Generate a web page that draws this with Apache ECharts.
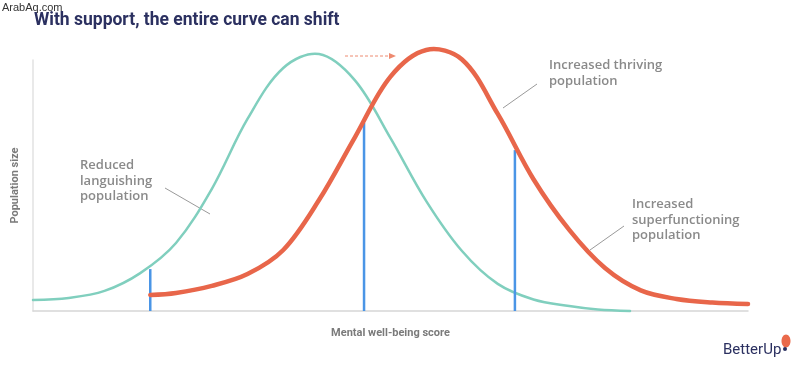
<!DOCTYPE html>
<html>
<head>
<meta charset="utf-8">
<script src="https://cdn.jsdelivr.net/npm/echarts@6/dist/echarts.min.js"></script>
<style>
html,body{margin:0;padding:0;background:#fff;}
#chart{width:800px;height:375px;}
</style>
</head>
<body>
<div id="chart"></div>
<script>
// Curve before support (teal): [score, population size]
const beforeCurve = [
  [0,4.4],[5,5.2],[10,8.0],[15,15.1],[20,27.1],[25,48.6],[30,76.5],[35,96.8],
  [40,102.4],[45,92.0],[50,68.9],[55,43.8],[60,23.9],[65,10.8],[70,4.6],
  [75,2.0],[79,0.6],[83.5,0]
];
// Curve with support (orange)
const afterCurve = [
  [16.4,6.4],[20,7.2],[25,10.0],[30,14.7],[35,24.3],[40,44.2],[45,69.1],
  [50,93.4],[55,104.0],[60,100.2],[65,78.5],[70,52.5],[75,32.3],[80,17.1],
  [85,8.2],[90,4.8],[95,3.4],[100,2.8]
];
// Threshold markers: [score, height]
const thresholds = [[16.4,16.7],[46.3,74.9],[67.4,64.1]];

const titleText = 'With support, the entire curve can shift';
const xName = 'Mental well-being score';
const yName = 'Population size';
const notes = [
  'Reduced\nlanguishing\npopulation',
  'Increased thriving\npopulation',
  'Increased\nsuperfunctioning\npopulation'
];

const chart = echarts.init(document.getElementById('chart'), null, {renderer:'canvas'});

function curveSeries(name, data, color, width, z) {
  return {
    type:'custom', name:name, data:data, z:z, silent:true,
    encode:{x:0, y:1},
    renderItem:function(params, api){
      if (params.dataIndex !== 0) return null;
      const pts = data.map(function(p){ return api.coord(p); });
      return {
        type:'polyline',
        shape:{points:pts, smooth:0.35},
        style:{stroke:color, lineWidth:width, fill:null, lineCap:'round', lineJoin:'round'}
      };
    }
  };
}

const blueSeries = thresholds.map(function(t, i){
  return {
    type:'line', name:'threshold'+i, data:[[t[0],0],[t[0],t[1]]],
    symbol:'none', silent:true, z:3, clip:false,
    lineStyle:{color:'#4a95e6', width:2.5}
  };
});

const annFont = '600 13px "Open Sans", Roboto, sans-serif';
chart.setOption({
  backgroundColor:'#ffffff',
  animation:false,
  title:{
    text:titleText, left:29, top:7,
    textStyle:{color:'#2b3060', fontSize:17.5, fontWeight:'bold', fontFamily:'Roboto, "Open Sans", sans-serif'}
  },
  grid:{left:33, right:52, top:60, bottom:64},
  xAxis:{
    type:'value', min:0, max:100,
    name:xName, nameLocation:'middle', nameGap:17,
    nameTextStyle:{color:'#7a7a7a', fontSize:11, fontWeight:'bold', fontFamily:'Roboto, sans-serif'},
    axisLine:{show:true, lineStyle:{color:'#d6d6d6', width:1.5}},
    axisTick:{show:false}, axisLabel:{show:false}, splitLine:{show:false}
  },
  yAxis:{
    type:'value', min:0, max:100,
    name:yName, nameLocation:'middle', nameGap:12, nameRotate:90,
    nameTextStyle:{color:'#7a7a7a', fontSize:11, fontWeight:'bold', fontFamily:'Roboto, sans-serif'},
    axisLine:{show:true, lineStyle:{color:'#e2e2e2', width:1.5}},
    axisTick:{show:false}, axisLabel:{show:false}, splitLine:{show:false}
  },
  series:[
    curveSeries('before', beforeCurve, '#80cfbe', 2.5, 2),
    curveSeries('after', afterCurve, '#e8664a', 4.5, 4)
  ].concat(blueSeries),
  graphic:[
    {type:'text', left:2, top:2, style:{text:'ArabAq.com', fill:'#333', font:'11px "Liberation Sans", Arial, sans-serif'}},
    {type:'text', left:80, top:158, style:{text:notes[0], fill:'#8a8a8a', font:annFont, lineHeight:15.5}},
    {type:'line', shape:{x1:165,y1:188,x2:210,y2:214}, style:{stroke:'#9a9a9a', lineWidth:1}},
    {type:'text', left:549, top:58, style:{text:notes[1], fill:'#8a8a8a', font:annFont, lineHeight:15.5}},
    {type:'line', shape:{x1:537,y1:84,x2:503,y2:108}, style:{stroke:'#9a9a9a', lineWidth:1}},
    {type:'text', left:632, top:197, style:{text:notes[2], fill:'#8a8a8a', font:annFont, lineHeight:15.5}},
    {type:'line', shape:{x1:624,y1:226,x2:590,y2:250}, style:{stroke:'#9a9a9a', lineWidth:1}},
    {type:'line', shape:{x1:345,y1:56,x2:391,y2:56}, style:{stroke:'#ee8a70', lineWidth:1, lineDash:[3,2]}},
    {type:'polygon', shape:{points:[[389,53],[396,56],[389,59]]}, style:{fill:'#ee8a70'}},
    {type:'text', left:723, top:343, style:{text:'BetterUp', fill:'#2b3060', font:'15px Roboto, "Open Sans", sans-serif'}},
    {type:'ellipse', shape:{cx:786,cy:341,rx:4.5,ry:6.5}, style:{fill:'#ea6a4b'}},
    {type:'circle', shape:{cx:785,cy:349,r:2}, style:{fill:'#2b3060'}}
  ]
});
</script>
</body>
</html>
